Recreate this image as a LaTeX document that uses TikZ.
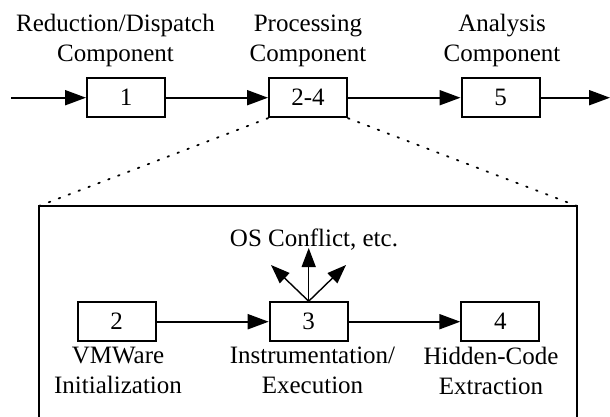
\documentclass[tikz,border=0pt]{standalone}
\usepackage{fontspec}
\setmainfont{Liberation Serif}
\usetikzlibrary{arrows.meta}
\begin{document}
\begin{tikzpicture}[x=1pt,y=-1pt,
  font=\fontsize{25}{30}\selectfont,
  box/.style={draw,line width=2pt,minimum width=78pt,minimum height=39pt,inner sep=0pt},
  lab/.style={anchor=base,inner sep=0pt},
  flow/.style={line width=2pt,-{Triangle[length=21pt,width=15pt]}},
  side/.style={line width=1.4pt,-{Triangle[length=19pt,width=14pt]}},
  dots/.style={line width=1.8pt,dash pattern=on 1.6pt off 9pt,line cap=round}]
\useasboundingbox (0,0) rectangle (610,416);
% top row
\node[box] (b1) at (126,97.7) {1};
\node[box] (b24) at (308,97.7) {2-4};
\node[box] (b5) at (500.5,97.7) {5};
\coordinate (in) at (11,97.7);
\coordinate (out) at (610,97.7);
\draw[flow] (in) -- (b1);
\draw[flow] (b1) -- (b24);
\draw[flow] (b24) -- (b5);
\draw[flow] (b5) -- (out);
\node[lab] (l1a) at (115.5,31.4) {Reduction/Dispatch};
\node[lab] (l1b) at (115.5,61) {Component};
\node[lab] (l2a) at (308,31.4) {Processing};
\node[lab] (l2b) at (308,61) {Component};
\node[lab] (l3a) at (502,31.4) {Analysis};
\node[lab] (l3b) at (502,61) {Component};
% enclosure
\coordinate (bl) at (39,206);
\coordinate (br) at (577,206);
\coordinate (bll) at (39,418);
\coordinate (brr) at (577,418);
\draw[line width=1.8pt] (bll) -- (bl) -- (br) -- (brr);
\draw[dots] (b24.south west) -- (bl);
\draw[dots] (b24.south east) -- (br);
% inner row
\node[box] (b2) at (116.5,321.7) {2};
\node[box] (b3) at (308.7,321.7) {3};
\node[box] (b4) at (500.3,321.7) {4};
\draw[flow] (b2) -- (b3);
\draw[flow] (b3) -- (b4);
\coordinate (up) at (308.7,248);
\coordinate (upl) at (271,265);
\coordinate (upr) at (346,265);
\draw[side] (b3.north) -- (up);
\draw[side] (b3.north) -- (upl);
\draw[side] (b3.north) -- (upr);
\node[lab] (os) at (314,246.7) {OS Conflict, etc.};
\node[lab] (l4a) at (118,363.5) {VMWare};
\node[lab] (l4b) at (118,393.5) {Initialization};
\node[lab] (l5a) at (312.5,363.5) {Instrumentation/};
\node[lab] (l5b) at (312.5,393.5) {Execution};
\node[lab] (l6a) at (491,364.5) {Hidden-Code};
\node[lab] (l6b) at (491,394.5) {Extraction};
\end{tikzpicture}
\end{document}
